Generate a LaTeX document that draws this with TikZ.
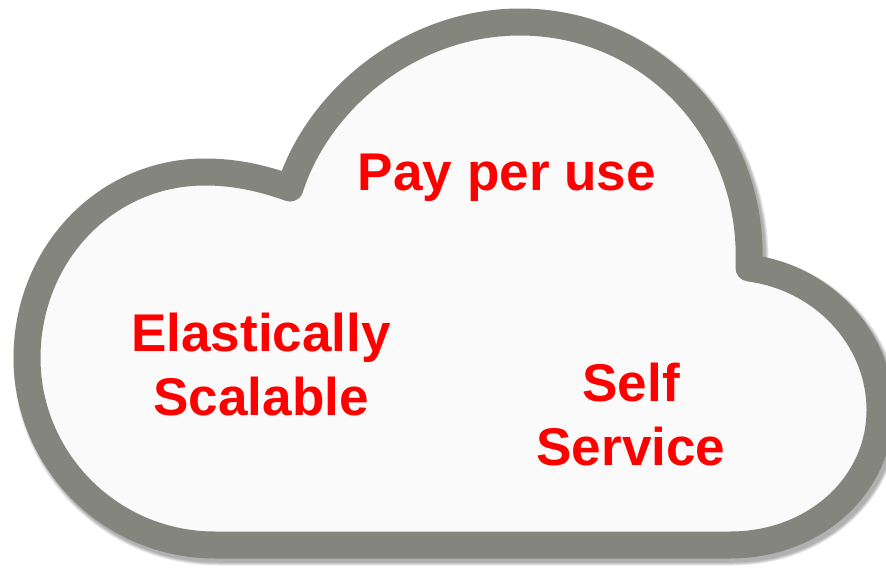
\documentclass[tikz,border=0pt]{standalone}
\usepackage{fontspec}
\setmainfont{Liberation Sans}
\definecolor{cloudgrey}{HTML}{84857D}
\definecolor{cloudfill}{HTML}{FAFAFA}
\newcommand{\cloudpath}{(290,188) .. controls (318,100) and (410,22) .. (520,22)
	.. controls (650,22) and (755,130) .. (749,268)
	.. controls (825,278) and (880,340) .. (880,410)
	.. controls (880,485) and (815,545) .. (730,545)
	-- (215,545)
	.. controls (110,545) and (27,460) .. (27,358)
	.. controls (27,255) and (105,172) .. (205,172)
	.. controls (235,172) and (262,178) .. (290,188) -- cycle}
\tikzset{
	label/.style = {text=red, align=center, font=\bfseries\fontsize{53.1}{63.5}\selectfont},
	outline/.style = {draw=cloudgrey, line width=27pt, line join=round, fill=cloudfill}
}
\begin{document}
\begin{tikzpicture}[x=1pt,y=-1pt]
\useasboundingbox (0,0) rectangle (886,570);
% soft shadow
\foreach \w in {27,28.5,30,31.5,33}
	\draw[black, opacity=0.07, line width=\w pt, line join=round, shift={(3,4)}] \cloudpath;
\draw[outline] \cloudpath;
\node[label] (pay) at (507,178) {Pay per use};
\node[label] (elastic) at (261,364.5) {Elastically\\Scalable};
\node[label] (self) at (631,414.5) {Self\\Service};
\end{tikzpicture}
\end{document}
